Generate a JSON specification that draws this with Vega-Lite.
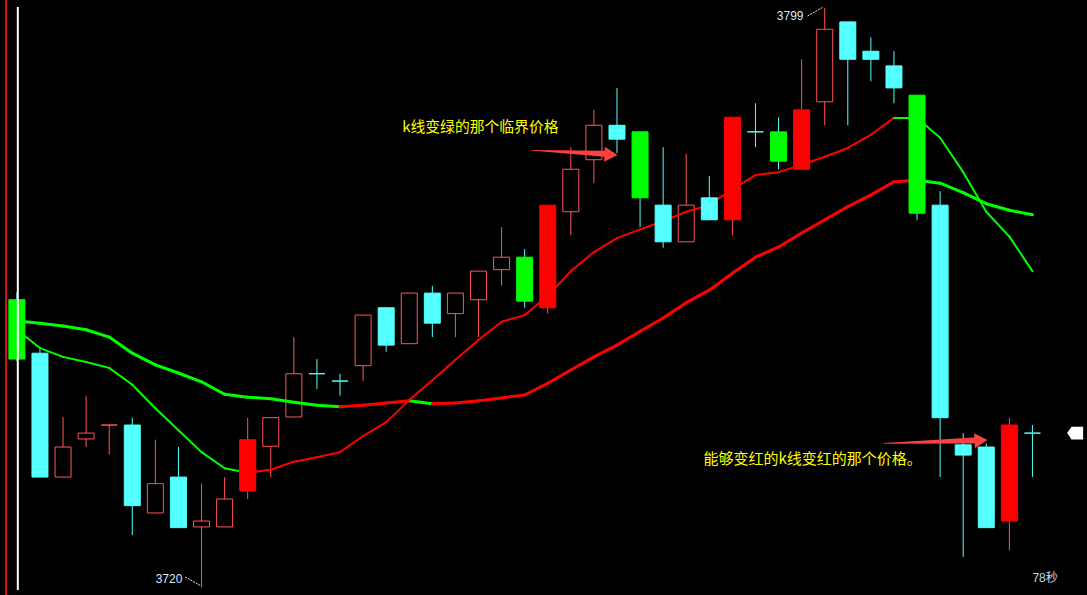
{
  "$schema": "https://vega.github.io/schema/vega-lite/v6.json",
  "width": 1087,
  "height": 595,
  "autosize": "none",
  "padding": 0,
  "background": "#000000",
  "config": {"view": {"stroke": null}},
  "datasets": {
    "candles": [
      {"i":1,"t":"downS","o":3759.2,"h":3760.2,"l":3750.8,"c":3751.1},
      {"i":2,"t":"down","o":3751.9,"h":3752.6,"l":3735.0,"c":3735.0},
      {"i":3,"t":"up","o":3735.0,"h":3743.2,"l":3735.0,"c":3739.1},
      {"i":4,"t":"up","o":3740.2,"h":3746.1,"l":3739.1,"c":3741.0},
      {"i":5,"t":"up","o":3742.1,"h":3742.1,"l":3738.1,"c":3742.1},
      {"i":6,"t":"down","o":3742.1,"h":3743.1,"l":3727.1,"c":3731.1},
      {"i":7,"t":"up","o":3730.1,"h":3740.1,"l":3730.1,"c":3734.1},
      {"i":8,"t":"down","o":3735.0,"h":3739.1,"l":3728.1,"c":3728.1},
      {"i":9,"t":"up","o":3728.2,"h":3734.1,"l":3720.0,"c":3729.0},
      {"i":10,"t":"up","o":3728.2,"h":3735.0,"l":3728.2,"c":3732.0},
      {"i":11,"t":"upS","o":3733.1,"h":3743.1,"l":3732.0,"c":3740.1},
      {"i":12,"t":"up","o":3739.2,"h":3743.1,"l":3735.0,"c":3743.1},
      {"i":13,"t":"up","o":3743.2,"h":3754.1,"l":3743.2,"c":3749.1},
      {"i":14,"t":"down","o":3749.1,"h":3751.1,"l":3747.0,"c":3749.1},
      {"i":15,"t":"down","o":3748.1,"h":3749.1,"l":3746.1,"c":3748.1},
      {"i":16,"t":"up","o":3750.2,"h":3757.1,"l":3748.1,"c":3757.1},
      {"i":17,"t":"down","o":3758.1,"h":3758.1,"l":3752.1,"c":3753.0},
      {"i":18,"t":"up","o":3753.2,"h":3760.1,"l":3753.2,"c":3760.1},
      {"i":19,"t":"down","o":3760.1,"h":3761.1,"l":3754.1,"c":3756.0},
      {"i":20,"t":"up","o":3757.3,"h":3760.1,"l":3754.1,"c":3760.1},
      {"i":21,"t":"up","o":3759.2,"h":3763.1,"l":3754.1,"c":3763.1},
      {"i":22,"t":"up","o":3763.3,"h":3769.1,"l":3761.1,"c":3765.0},
      {"i":23,"t":"downS","o":3765.0,"h":3766.1,"l":3758.1,"c":3759.0},
      {"i":24,"t":"upS","o":3758.1,"h":3772.1,"l":3757.3,"c":3772.1},
      {"i":25,"t":"up","o":3771.2,"h":3780.0,"l":3768.0,"c":3777.0},
      {"i":26,"t":"up","o":3778.3,"h":3785.1,"l":3775.1,"c":3783.0},
      {"i":27,"t":"down","o":3783.0,"h":3788.1,"l":3779.2,"c":3781.1},
      {"i":28,"t":"downS","o":3782.1,"h":3782.1,"l":3769.1,"c":3773.1},
      {"i":29,"t":"down","o":3772.1,"h":3780.0,"l":3766.3,"c":3767.1},
      {"i":30,"t":"up","o":3767.1,"h":3779.1,"l":3767.1,"c":3772.1},
      {"i":31,"t":"down","o":3773.1,"h":3776.1,"l":3770.1,"c":3770.1},
      {"i":32,"t":"upS","o":3770.1,"h":3784.1,"l":3768.0,"c":3784.1},
      {"i":33,"t":"down","o":3782.1,"h":3786.0,"l":3780.0,"c":3782.1},
      {"i":34,"t":"downS","o":3782.1,"h":3784.1,"l":3777.0,"c":3778.1},
      {"i":35,"t":"upS","o":3777.0,"h":3792.0,"l":3777.0,"c":3785.1},
      {"i":36,"t":"up","o":3786.2,"h":3799.0,"l":3783.0,"c":3796.1},
      {"i":37,"t":"down","o":3797.1,"h":3797.1,"l":3783.0,"c":3792.0},
      {"i":38,"t":"down","o":3793.1,"h":3795.0,"l":3789.0,"c":3792.0},
      {"i":39,"t":"down","o":3791.1,"h":3793.1,"l":3786.0,"c":3788.1},
      {"i":40,"t":"downS","o":3787.1,"h":3787.1,"l":3770.1,"c":3771.0},
      {"i":41,"t":"down","o":3772.1,"h":3774.0,"l":3735.0,"c":3743.1},
      {"i":42,"t":"down","o":3739.4,"h":3741.0,"l":3724.1,"c":3738.0},
      {"i":43,"t":"down","o":3739.1,"h":3739.6,"l":3728.1,"c":3728.1},
      {"i":44,"t":"upS","o":3729.0,"h":3743.1,"l":3725.0,"c":3742.1},
      {"i":45,"t":"down","o":3741.0,"h":3742.1,"l":3735.0,"c":3741.0}
    ],
    "ma": [
      {"i":1,"fast":3755.1,"slow":3756.3},
      {"i":2,"fast":3752.6,"slow":3756.0},
      {"i":3,"fast":3751.4,"slow":3755.6},
      {"i":4,"fast":3750.7,"slow":3755.1},
      {"i":5,"fast":3749.9,"slow":3754.1},
      {"i":6,"fast":3747.6,"slow":3751.9},
      {"i":7,"fast":3744.4,"slow":3750.3},
      {"i":8,"fast":3741.4,"slow":3749.2},
      {"i":9,"fast":3738.4,"slow":3748.0},
      {"i":10,"fast":3736.2,"slow":3746.3},
      {"i":11,"fast":3735.6,"slow":3745.9},
      {"i":12,"fast":3736.0,"slow":3745.7},
      {"i":13,"fast":3737.1,"slow":3745.2},
      {"i":14,"fast":3737.7,"slow":3744.8},
      {"i":15,"fast":3738.4,"slow":3744.6},
      {"i":16,"fast":3740.6,"slow":3744.8},
      {"i":17,"fast":3742.5,"slow":3745.1},
      {"i":18,"fast":3745.5,"slow":3745.4},
      {"i":19,"fast":3748.2,"slow":3745.0},
      {"i":20,"fast":3751.0,"slow":3745.1},
      {"i":21,"fast":3753.7,"slow":3745.4},
      {"i":22,"fast":3756.2,"slow":3745.8},
      {"i":23,"fast":3757.1,"slow":3746.2},
      {"i":24,"fast":3759.7,"slow":3747.8},
      {"i":25,"fast":3763.1,"slow":3749.6},
      {"i":26,"fast":3765.7,"slow":3751.4},
      {"i":27,"fast":3767.6,"slow":3753.0},
      {"i":28,"fast":3768.8,"slow":3754.9},
      {"i":29,"fast":3769.9,"slow":3756.7},
      {"i":30,"fast":3771.2,"slow":3758.8},
      {"i":31,"fast":3772.1,"slow":3760.5},
      {"i":32,"fast":3774.3,"slow":3762.8},
      {"i":33,"fast":3776.2,"slow":3765.0},
      {"i":34,"fast":3776.6,"slow":3766.4},
      {"i":35,"fast":3777.6,"slow":3768.3},
      {"i":36,"fast":3778.7,"slow":3770.1},
      {"i":37,"fast":3779.9,"slow":3771.9},
      {"i":38,"fast":3781.7,"slow":3773.5},
      {"i":39,"fast":3784.0,"slow":3775.3},
      {"i":40,"fast":3784.0,"slow":3775.5},
      {"i":41,"fast":3781.3,"slow":3775.1},
      {"i":42,"fast":3776.6,"slow":3773.8},
      {"i":43,"fast":3771.2,"slow":3772.3},
      {"i":44,"fast":3767.8,"slow":3771.4},
      {"i":45,"fast":3763.1,"slow":3770.8}
    ],
    "arrows": [
      {"a":1,"k":0,"i":23.28,"p":3779.6},
      {"a":1,"k":1,"i":26.46,"p":3779.1},
      {"a":2,"k":0,"i":38.56,"p":3739.6},
      {"a":2,"k":1,"i":42.43,"p":3740.0}
    ],
    "prices": [
      {"i":8.17,"p":3721.09,"s":"3720"},
      {"i":35.08,"p":3797.9,"s":"3799"}
    ],
    "leaders": [
      {"i":8.30,"p":3721.36,"i2":8.985,"p2":3720.14},
      {"i":35.26,"p":3797.91,"i2":35.94,"p2":3799.14}
    ]
  },
  "layer": [
    {
      "data": {"values": [{}]},
      "mark": {"type": "rule", "color": "#d81010", "strokeWidth": 2},
      "encoding": {
        "x": {"datum": 0.528, "type": "quantitative", "scale": {"domain": [0.485, 47.147], "nice": false, "zero": false}, "axis": null}
      }
    },
    {
      "data": {"name": "candles"},
      "mark": {"type": "rule", "strokeWidth": 1},
      "encoding": {
        "x": {"field": "i", "type": "quantitative", "scale": {"domain": [0.485, 47.147], "nice": false, "zero": false}, "axis": null},
        "y": {"field": "h", "type": "quantitative", "scale": {"domain": [3718.91, 3800.09], "nice": false, "zero": false}, "axis": null},
        "y2": {"field": "l"},
        "color": {"condition": {"test": "datum.t == 'up' || datum.t == 'upS'", "value": "#ff5555"}, "value": "#54ffff"}
      }
    },
    {
      "data": {"name": "candles"},
      "transform": [{"filter": "datum.t == 'up'"}],
      "mark": {"type": "bar", "size": 16, "fill": "#000000", "stroke": "#ff5555", "strokeWidth": 1},
      "encoding": {
        "x": {"field": "i", "type": "quantitative", "scale": {"domain": [0.485, 47.147], "nice": false, "zero": false}, "axis": null},
        "y": {"field": "o", "type": "quantitative", "scale": {"domain": [3718.91, 3800.09], "nice": false, "zero": false}, "axis": null},
        "y2": {"field": "c"}
      }
    },
    {
      "data": {"name": "ma"},
      "transform": [
        {"window": [{"op": "lead", "field": "slow", "as": "slow2"}, {"op": "lead", "field": "i", "as": "i2"}], "sort": [{"field": "i"}]},
        {"filter": "datum.i2 != null"}
      ],
      "mark": {"type": "rule", "strokeWidth": 3, "strokeCap": "round"},
      "encoding": {
        "x": {"field": "i", "type": "quantitative", "scale": {"domain": [0.485, 47.147], "nice": false, "zero": false}, "axis": null},
        "x2": {"field": "i2"},
        "y": {"field": "slow", "type": "quantitative", "scale": {"domain": [3718.91, 3800.09], "nice": false, "zero": false}, "axis": null},
        "y2": {"field": "slow2"},
        "color": {"condition": {"test": "datum.slow2 > datum.slow", "value": "#ff0000"}, "value": "#00ff00"}
      }
    },
    {
      "data": {"name": "ma"},
      "transform": [
        {"window": [{"op": "lead", "field": "fast", "as": "fast2"}, {"op": "lead", "field": "i", "as": "i2"}], "sort": [{"field": "i"}]},
        {"filter": "datum.i2 != null"}
      ],
      "mark": {"type": "rule", "strokeWidth": 2, "strokeCap": "round"},
      "encoding": {
        "x": {"field": "i", "type": "quantitative", "scale": {"domain": [0.485, 47.147], "nice": false, "zero": false}, "axis": null},
        "x2": {"field": "i2"},
        "y": {"field": "fast", "type": "quantitative", "scale": {"domain": [3718.91, 3800.09], "nice": false, "zero": false}, "axis": null},
        "y2": {"field": "fast2"},
        "color": {"condition": {"test": "datum.fast2 > datum.fast", "value": "#ff0000"}, "value": "#00ff00"}
      }
    },
    {
      "data": {"name": "candles"},
      "transform": [{"filter": "datum.t != 'up'"}],
      "mark": {"type": "bar", "size": 16, "strokeWidth": 1},
      "encoding": {
        "x": {"field": "i", "type": "quantitative", "scale": {"domain": [0.485, 47.147], "nice": false, "zero": false}, "axis": null},
        "y": {"field": "o", "type": "quantitative", "scale": {"domain": [3718.91, 3800.09], "nice": false, "zero": false}, "axis": null},
        "y2": {"field": "c"},
        "fill": {"field": "t", "type": "nominal", "scale": {"domain": ["down", "upS", "downS"], "range": ["#54ffff", "#ff0000", "#00ff00"]}, "legend": null},
        "stroke": {"field": "t", "type": "nominal", "scale": {"domain": ["down", "upS", "downS"], "range": ["#54ffff", "#ff0000", "#00ff00"]}, "legend": null}
      }
    },
    {
      "data": {"values": [{}]},
      "mark": {"type": "rule", "color": "#ffffff", "strokeWidth": 2},
      "encoding": {
        "x": {"datum": 1.04, "type": "quantitative", "scale": {"domain": [0.485, 47.147], "nice": false, "zero": false}, "axis": null},
        "y": {"datum": 3799.14, "type": "quantitative", "scale": {"domain": [3718.91, 3800.09], "nice": false, "zero": false}, "axis": null},
        "y2": {"datum": 3719.6}
      }
    },
    {
      "data": {"name": "arrows"},
      "mark": {"type": "trail", "color": "#ff4040"},
      "encoding": {
        "x": {"field": "i", "type": "quantitative", "scale": {"domain": [0.485, 47.147], "nice": false, "zero": false}, "axis": null},
        "y": {"field": "p", "type": "quantitative", "scale": {"domain": [3718.91, 3800.09], "nice": false, "zero": false}, "axis": null},
        "detail": {"field": "a"},
        "order": {"field": "k"},
        "size": {"field": "k", "type": "quantitative", "scale": {"domain": [0, 1], "range": [0.6, 6]}, "legend": null}
      }
    },
    {
      "data": {"values": [{"i": 26.74, "p": 3779.0}]},
      "mark": {"type": "point", "shape": "triangle-right", "size": 225, "filled": true, "opacity": 1, "color": "#ff4040", "angle": 3},
      "encoding": {
        "x": {"field": "i", "type": "quantitative", "scale": {"domain": [0.485, 47.147], "nice": false, "zero": false}, "axis": null},
        "y": {"field": "p", "type": "quantitative", "scale": {"domain": [3718.91, 3800.09], "nice": false, "zero": false}, "axis": null}
      }
    },
    {
      "data": {"values": [{"i": 42.77, "p": 3740.0}]},
      "mark": {"type": "point", "shape": "triangle-right", "size": 225, "filled": true, "opacity": 1, "color": "#ff4040", "angle": -3},
      "encoding": {
        "x": {"field": "i", "type": "quantitative", "scale": {"domain": [0.485, 47.147], "nice": false, "zero": false}, "axis": null},
        "y": {"field": "p", "type": "quantitative", "scale": {"domain": [3718.91, 3800.09], "nice": false, "zero": false}, "axis": null}
      }
    },
    {
      "data": {"values": [{"i": 17.70, "p": 3782.6, "s": "k线变绿的那个临界价格"}]},
      "mark": {"type": "text", "align": "left", "baseline": "middle", "font": "Noto Sans CJK SC", "fontSize": 14.8, "color": "#ffff00"},
      "encoding": {
        "x": {"field": "i", "type": "quantitative", "scale": {"domain": [0.485, 47.147], "nice": false, "zero": false}, "axis": null},
        "y": {"field": "p", "type": "quantitative", "scale": {"domain": [3718.91, 3800.09], "nice": false, "zero": false}, "axis": null},
        "text": {"field": "s"}
      }
    },
    {
      "data": {"values": [{"i": 30.75, "p": 3737.5, "s": "能够变红的k线变红的那个价格。"}]},
      "mark": {"type": "text", "align": "left", "baseline": "middle", "font": "Noto Sans CJK SC", "fontSize": 15, "color": "#ffff00"},
      "encoding": {
        "x": {"field": "i", "type": "quantitative", "scale": {"domain": [0.485, 47.147], "nice": false, "zero": false}, "axis": null},
        "y": {"field": "p", "type": "quantitative", "scale": {"domain": [3718.91, 3800.09], "nice": false, "zero": false}, "axis": null},
        "text": {"field": "s"}
      }
    },
    {
      "data": {"name": "leaders"},
      "mark": {"type": "rule", "color": "#e8e8e8", "strokeWidth": 1, "strokeDash": [2, 1]},
      "encoding": {
        "x": {"field": "i", "type": "quantitative", "scale": {"domain": [0.485, 47.147], "nice": false, "zero": false}, "axis": null},
        "x2": {"field": "i2"},
        "y": {"field": "p", "type": "quantitative", "scale": {"domain": [3718.91, 3800.09], "nice": false, "zero": false}, "axis": null},
        "y2": {"field": "p2"}
      }
    },
    {
      "data": {"name": "prices"},
      "mark": {"type": "text", "align": "right", "baseline": "middle", "font": "Liberation Sans", "fontSize": 12, "color": "#dce6ff"},
      "encoding": {
        "x": {"field": "i", "type": "quantitative", "scale": {"domain": [0.485, 47.147], "nice": false, "zero": false}, "axis": null},
        "y": {"field": "p", "type": "quantitative", "scale": {"domain": [3718.91, 3800.09], "nice": false, "zero": false}, "axis": null},
        "text": {"field": "s"}
      }
    },
    {
      "data": {"values": [{"i": 45.0, "p": 3721.2, "s": "78秒"}]},
      "mark": {"type": "text", "align": "left", "baseline": "middle", "font": "Liberation Sans, Noto Sans CJK SC", "fontSize": 12, "color": "#c8d6f0"},
      "encoding": {
        "x": {"field": "i", "type": "quantitative", "scale": {"domain": [0.485, 47.147], "nice": false, "zero": false}, "axis": null},
        "y": {"field": "p", "type": "quantitative", "scale": {"domain": [3718.91, 3800.09], "nice": false, "zero": false}, "axis": null},
        "text": {"field": "s"}
      }
    },
    {
      "data": {"values": [{"i": 46.85, "p": 3741.0}]},
      "mark": {"type": "point", "shape": "M -1 0 L -0.45 -0.8 L 1 -0.8 L 1 0.8 L -0.45 0.8 Z", "size": 256, "filled": true, "opacity": 1, "color": "#ffffff"},
      "encoding": {
        "x": {"field": "i", "type": "quantitative", "scale": {"domain": [0.485, 47.147], "nice": false, "zero": false}, "axis": null},
        "y": {"field": "p", "type": "quantitative", "scale": {"domain": [3718.91, 3800.09], "nice": false, "zero": false}, "axis": null}
      }
    }
  ]
}
